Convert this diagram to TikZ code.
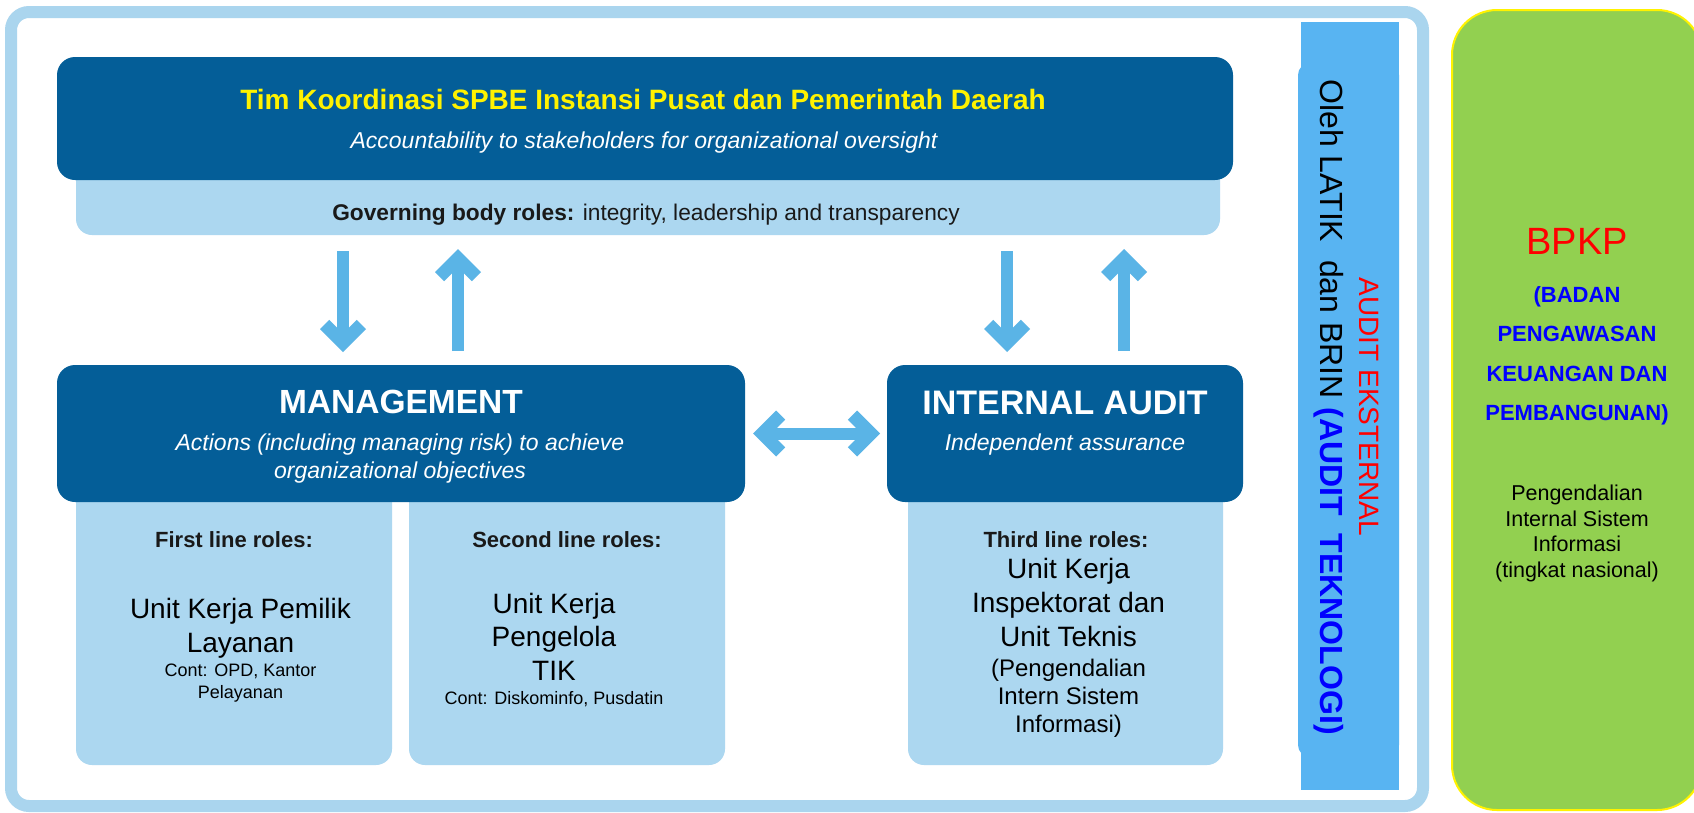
\documentclass[tikz,border=0pt]{standalone}
\usepackage{fontspec}
\setmainfont{Liberation Sans}
\usetikzlibrary{arrows.meta}

\definecolor{dkblue}{RGB}{4,94,152}
\definecolor{ltblue}{RGB}{172,215,240}
\definecolor{frameblue}{RGB}{170,213,238}
\definecolor{arrblue}{RGB}{90,180,230}
\definecolor{stripblue}{RGB}{88,180,242}
\definecolor{bpkgreen}{RGB}{146,208,80}
\definecolor{govtext}{RGB}{25,25,25}

\pgfdeclarearrow{
  name = Chev,
  parameters = {chev},
  setup code = {
    \pgfarrowssettipend{0pt}
    \pgfarrowssetlineend{-16pt}
    \pgfarrowssetbackend{-32.2pt}
    \pgfarrowssetvisualbackend{-32.2pt}
    \pgfarrowshullpoint{0pt}{0pt}
    \pgfarrowsupperhullpoint{-23pt}{23pt}
    \pgfarrowsupperhullpoint{-32.2pt}{13.8pt}
  },
  drawing code = {
    \pgfpathmoveto{\pgfqpoint{0pt}{0pt}}
    \pgfpathlineto{\pgfqpoint{-23pt}{23pt}}
    \pgfpathlineto{\pgfqpoint{-32.2pt}{13.8pt}}
    \pgfpathlineto{\pgfqpoint{-24.4pt}{6pt}}
    \pgfpathlineto{\pgfqpoint{-24.4pt}{-6pt}}
    \pgfpathlineto{\pgfqpoint{-32.2pt}{-13.8pt}}
    \pgfpathlineto{\pgfqpoint{-23pt}{-23pt}}
    \pgfpathclose
    \pgfusepathqfill
  }
}

\newcommand{\fsz}[1]{\fontsize{#1pt}{#1pt}\selectfont}

\tikzset{
  box/.style={rectangle, anchor=north west, inner sep=0pt, outer sep=0pt},
  darkbox/.style={box, fill=dkblue, rounded corners=18pt},
  lightbox/.style={box, fill=ltblue, rounded corners=16pt},
  txt/.style={anchor=base, inner sep=0pt, outer sep=0pt},
  bigarr/.style={color=arrblue, line width=12pt, -{Chev}},
}

\begin{document}
\begin{tikzpicture}[x=1pt,y=-1pt]
\clip (0,0) rectangle (1694,812);
\fill[white] (0,0) rectangle (1694,812);

% outer frame
\node[box, draw=frameblue, line width=12pt, rounded corners=18pt,
      minimum width=1412pt, minimum height=794pt] (frame) at (11,12) {};

% governing body
\node[lightbox, minimum width=1144pt, minimum height=75pt] (gstrip) at (76,160) {};
\node[darkbox, minimum width=1176pt, minimum height=123pt] (tim) at (57,57) {};
\node[txt, text=yellow] (title) at (643,109) {\fsz{28}\bfseries Tim Koordinasi SPBE Instansi Pusat dan Pemerintah Daerah};
\node[txt, text=white] (acc) at (644,148) {\fsz{23}\itshape Accountability to stakeholders for organizational oversight};
\node[txt, text=govtext] (govtxt) at (646,220) {\fsz{22.7}\textbf{Governing body roles:} integrity, leadership and transparency};

% role boxes
\node[lightbox, minimum width=316pt, minimum height=285pt] (first) at (76,480) {};
\node[lightbox, minimum width=316pt, minimum height=285pt] (second) at (409,480) {};
\node[lightbox, minimum width=315pt, minimum height=285pt] (third) at (908,480) {};

% management & internal audit
\node[darkbox, minimum width=688pt, minimum height=137pt] (mgmt) at (57,365) {};
\node[darkbox, minimum width=356pt, minimum height=137pt] (ia) at (887,365) {};

\node[txt, text=white] (mgmtt) at (401,413) {\fsz{33.5}\bfseries MANAGEMENT};
\node[txt, text=white] (mgmta) at (400,450) {\fsz{23}\itshape Actions (including managing risk) to achieve};
\node[txt, text=white] (mgmtb) at (400,478) {\fsz{23}\itshape organizational objectives};
\node[txt, text=white] (iat) at (1065,414) {\fsz{34}\bfseries INTERNAL AUDIT};
\node[txt, text=white] (iaa) at (1065,450) {\fsz{23}\itshape Independent assurance};

\node[txt, text=govtext] (firsth) at (234,547) {\fsz{22}\bfseries First line roles:};
\node[txt, text=govtext] (secondh) at (567,547) {\fsz{22}\bfseries Second line roles:};
\node[txt, text=govtext] (thirdh) at (1066,547) {\fsz{22}\bfseries Third line roles:};

% first box body
\node[txt] (f1) at (240.5,618) {\fsz{28}Unit Kerja Pemilik};
\node[txt] (f2) at (240.5,652) {\fsz{28}Layanan};
\node[txt] (f3) at (240.5,676) {\fsz{18}Cont: OPD, Kantor};
\node[txt] (f4) at (240.5,698) {\fsz{18}Pelayanan};

% second box body
\node[txt] (s1) at (554,613) {\fsz{28}Unit Kerja};
\node[txt] (s2) at (554,646.5) {\fsz{28}Pengelola};
\node[txt] (s3) at (554,680) {\fsz{28}TIK};
\node[txt] (s4) at (554,704) {\fsz{18}Cont: Diskominfo, Pusdatin};

% third box body
\node[txt] (t1) at (1068.5,578) {\fsz{28}Unit Kerja};
\node[txt] (t2) at (1068.5,612) {\fsz{28}Inspektorat dan};
\node[txt] (t3) at (1068.5,646) {\fsz{28}Unit Teknis};
\node[txt] (t4) at (1068.5,676) {\fsz{24}(Pengendalian};
\node[txt] (t5) at (1068.5,704) {\fsz{24}Intern Sistem};
\node[txt] (t6) at (1068.5,732) {\fsz{24}Informasi)};

% arrows
\coordinate (xa) at (343,0);
\coordinate (xb) at (458,0);
\coordinate (xc) at (1007,0);
\coordinate (xd) at (1124,0);
\draw[bigarr, shorten <=16pt, shorten >=13pt] (xa |- gstrip.south) -- (xa |- mgmt.north);
\draw[bigarr, shorten <=14pt, shorten >=14pt] (xb |- mgmt.north) -- (xb |- gstrip.south);
\draw[bigarr, shorten <=16pt, shorten >=13pt] (xc |- gstrip.south) -- (xc |- ia.north);
\draw[bigarr, shorten <=14pt, shorten >=14pt] (xd |- ia.north) -- (xd |- gstrip.south);
\draw[bigarr, {Chev}-{Chev}, shorten <=8pt, shorten >=7pt] (mgmt.east) -- (ia.west);

% external audit strip
\node[box, fill=stripblue, rounded corners=12pt, minimum width=101pt, minimum height=694pt] (stripbk) at (1298,63) {};
\node[box, fill=stripblue, minimum width=98pt, minimum height=768pt] (strip) at (1301,22) {};
\node[txt, rotate=-90, text=red] (ext) at (1359,407) {\fsz{28}AUDIT EKSTERNAL};
\node[txt, rotate=-90] (oleh) at (1320,407) {\fsz{32}Oleh LATIK\ \ dan BRIN \textcolor{blue}{\bfseries(AUDIT\ \ TEKNOLOGI)}};

% BPKP box
\node[box, fill=bpkgreen, draw=yellow, line width=2pt, rounded corners=45pt,
      minimum width=250pt, minimum height=800pt] (bpkpbox) at (1452,10) {};
\node[txt, text=red] (bpkp) at (1577,254) {\fsz{38}BPKP};
\node[txt, text=blue] (b1) at (1577,302) {\fsz{22}\bfseries (BADAN};
\node[txt, text=blue] (b2) at (1577,341) {\fsz{22}\bfseries PENGAWASAN};
\node[txt, text=blue] (b3) at (1577,381) {\fsz{22}\bfseries KEUANGAN DAN};
\node[txt, text=blue] (b4) at (1577,420) {\fsz{22}\bfseries PEMBANGUNAN)};
\node[txt] (p1) at (1577,500) {\fsz{21.5}Pengendalian};
\node[txt] (p2) at (1577,526) {\fsz{21.5}Internal Sistem};
\node[txt] (p3) at (1577,551.5) {\fsz{21.5}Informasi};
\node[txt] (p4) at (1577,577) {\fsz{21.5}(tingkat nasional)};
\end{tikzpicture}
\end{document}
